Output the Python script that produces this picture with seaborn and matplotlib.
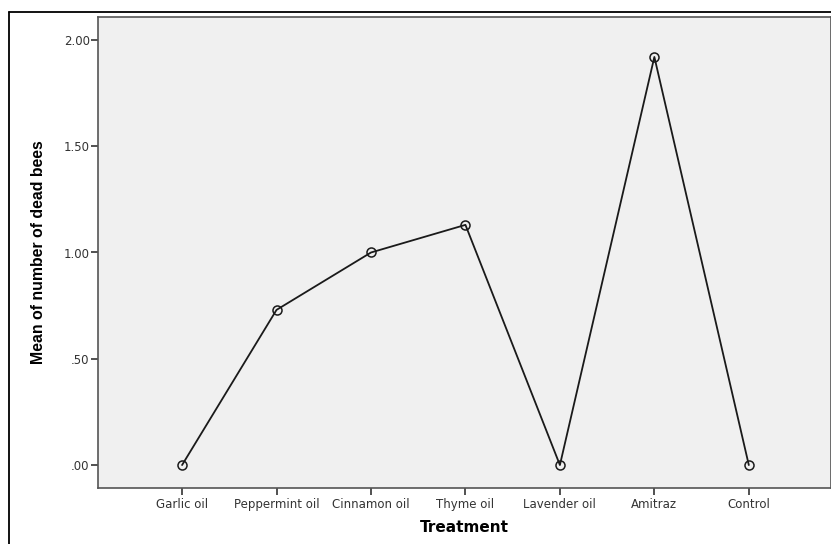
import numpy as np
import pandas as pd
import matplotlib
matplotlib.use("Agg")
import matplotlib.pyplot as plt
import seaborn as sns
from matplotlib.lines import Line2D

# ----------------------------
# Data
# ----------------------------

treatments = ["Garlic oil", "Peppermint oil", "Cinnamon oil", "Thyme oil",
              "Lavender oil", "Amitraz", "Control"]
mean_dead = [0.00, 0.73, 1.00, 1.13, 0.00, 1.92, 0.00]
y_ticks = [0.0, 0.5, 1.0, 1.5, 2.0]
y_tick_labels = [".00", ".50", "1.00", "1.50", "2.00"]

df = pd.DataFrame({"Treatment": treatments, "Mean": mean_dead})

# ----------------------------
# Plot
# ----------------------------

sns.set_style("white")
plt.rcParams["font.family"] = ["DejaVu Sans"]

fig = plt.figure(figsize=(8.31, 5.44), dpi=100)
ax = fig.add_axes([98 / 831, 56 / 544, 1 - 98 / 831, (488 - 17) / 544])
ax.set_facecolor("#f0f0f0")

sns.lineplot(
    data=df, x="Treatment", y="Mean", sort=False, ax=ax,
    color="#1a1a1a", linewidth=1.3,
    marker="o", markersize=6.5, markerfacecolor="none",
    markeredgecolor="#1a1a1a", markeredgewidth=1.1
)

ax.set_xlim(-0.89, 6.87)
ax.set_ylim(-0.108, 2.108)
ax.set_yticks(y_ticks)
ax.set_yticklabels(y_tick_labels)

for s in ax.spines.values():
    s.set_color("#555555")
    s.set_linewidth(1.2)

ax.tick_params(axis="both", direction="out", length=5, width=1.2,
               color="#333333", labelsize=8.5, labelcolor="#333333",
               left=True, bottom=True)
ax.tick_params(axis="y", pad=1)
ax.tick_params(axis="x", pad=2)

ax.set_xlabel("Treatment", fontsize=11, fontweight="bold", color="black",
              labelpad=7)
ax.set_ylabel("Mean of number of dead bees", fontsize=11.4,
              fontweight="bold", family="Liberation Sans", color="black",
              labelpad=13)

# outer frame (top and left)
fig.add_artist(Line2D([9 / 831, 9 / 831], [0, 1 - 12 / 544],
                      transform=fig.transFigure, color="black", linewidth=1.3))
fig.add_artist(Line2D([9 / 831, 1], [1 - 12 / 544, 1 - 12 / 544],
                      transform=fig.transFigure, color="black", linewidth=1.3))

fig.savefig("out.png", dpi=100)
